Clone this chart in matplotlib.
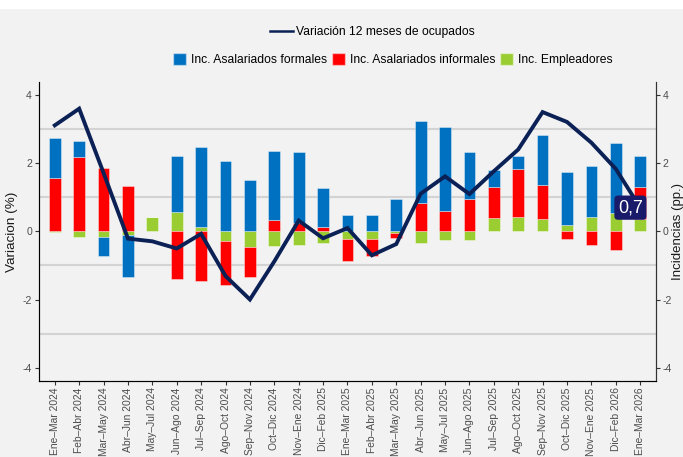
import numpy as np
import matplotlib.pyplot as plt
from matplotlib.lines import Line2D
from matplotlib.patches import Patch, Rectangle

plt.rcParams['font.family'] = ['Liberation Sans', 'DejaVu Sans']
plt.rcParams['axes.unicode_minus'] = False

# Datos
periodos = ['Ene–Mar 2024', 'Feb–Abr 2024', 'Mar–May 2024', 'Abr–Jun 2024', 'May–Jul 2024',
            'Jun–Ago 2024', 'Jul–Sep 2024', 'Ago–Oct 2024', 'Sep–Nov 2024', 'Oct–Dic 2024',
            'Nov–Ene 2024', 'Dic–Feb 2025', 'Ene–Mar 2025', 'Feb–Abr 2025', 'Mar–May 2025',
            'Abr–Jun 2025', 'May–Jul 2025', 'Jun–Ago 2025', 'Jul–Sep 2025', 'Ago–Oct 2025',
            'Sep–Nov 2025', 'Oct–Dic 2025', 'Nov–Ene 2025', 'Dic–Feb 2026', 'Ene–Mar 2026']
formales = [1.19, 0.48, -0.54, -1.25, 0.0, 1.65, 2.34, 2.06, 1.52, 2.03, 2.09, 1.16, 0.47,
            0.47, 0.96, 2.42, 2.46, 1.39, 0.50, 0.38, 1.47, 1.57, 1.50, 2.05, 0.91]
informales = [1.56, 2.18, 1.87, 1.35, 0.01, -1.39, -1.46, -1.29, -0.87, 0.34, 0.24, 0.12, -0.65,
              -0.50, -0.14, 0.84, 0.61, 0.95, 0.92, 1.41, 0.99, -0.21, -0.40, -0.54, 0.95]
empleadores = [-0.03, -0.17, -0.17, -0.09, 0.43, 0.57, 0.13, -0.27, -0.47, -0.43, -0.40, -0.33, -0.22,
               -0.23, -0.04, -0.33, -0.25, -0.25, 0.40, 0.43, 0.38, 0.19, 0.43, 0.54, 0.37]
variacion = [3.12, 3.61, 1.72, -0.21, -0.29, -0.50, -0.07, -1.31, -2.0, -0.88, 0.32, -0.2, 0.1,
             -0.70, -0.37, 1.11, 1.62, 1.10, 1.77, 2.41, 3.51, 3.22, 2.61, 1.84, 0.7]

fig = plt.figure(figsize=(6.83, 4.57), dpi=100)
fig.patch.set_facecolor('white')
fig.patches.append(Rectangle((0, 0), 1, 1 - 9 / 457, transform=fig.transFigure,
                             facecolor='#f2f2f2', edgecolor='none', zorder=-10))

ax = fig.add_axes([0.057, 0.166, 0.9035, 0.655])
ax.set_facecolor('#f2f2f2')

x = np.arange(len(periodos))
pos = np.zeros(len(x))
neg = np.zeros(len(x))
series = [(empleadores, '#9acd32', 'Inc. Empleadores'),
          (informales, '#ff0000', 'Inc. Asalariados informales'),
          (formales, '#0070c0', 'Inc. Asalariados formales')]
for vals, col, lab in series:
    v = np.array(vals)
    bottom = np.where(v >= 0, pos, neg)
    ax.bar(x, v, 0.48, bottom=bottom, color=col, edgecolor=(1, 1, 1, 0.45),
           linewidth=0.6, zorder=2)
    pos = pos + np.where(v >= 0, v, 0)
    neg = neg + np.where(v < 0, v, 0)

ax.plot(x, variacion, color='#0b2156', linewidth=2.8, zorder=3, solid_joinstyle='miter')
etiqueta = f'{variacion[-1]:.1f}'.replace('.', ',')
ax.text(x[-1] - 0.4, variacion[-1], etiqueta,
        color='white', fontsize=13, ha='center', va='center', zorder=4,
        bbox=dict(boxstyle='round,pad=0.2', facecolor='#1a1a6b', edgecolor='none'))

ax.set_xlim(-0.65, 24.65)
ax.set_ylim(-4.4, 4.4)
ax.set_yticks([-4, -2, 0, 2, 4])
ax.set_yticks([-3, -1, 1, 3], minor=True)
ax.grid(which='minor', axis='y', color='#d3d3d3', linewidth=1.5, zorder=0)
ax.tick_params(axis='y', which='minor', length=0)
ax.set_axisbelow(True)
ax.set_xticks(x)
ax.set_xticklabels(periodos, rotation=90, fontsize=7.4, color='#4d4d4d')
ax.tick_params(axis='both', which='major', length=3, color='#333333', labelcolor='#4d4d4d',
               labelsize=7.6)
ax.tick_params(axis='x', pad=1.5, labelsize=7.4)
ax.tick_params(axis='y', pad=2)
ax.set_ylabel('Variacion (%)', fontsize=9.7, color='#1a1a1a', labelpad=3)
ax.spines['top'].set_visible(False)
for s in ['left', 'bottom', 'right']:
    ax.spines[s].set_color('#333333')

ax2 = ax.twinx()
ax2.set_ylim(-4.4, 4.4)
ax2.set_yticks([-4, -2, 0, 2, 4])
ax2.tick_params(axis='y', length=3, color='#333333', labelcolor='#4d4d4d', labelsize=7.6, pad=1.5)
ax2.set_ylabel('Incidencias (pp.)', fontsize=9.5, color='#1a1a1a', labelpad=0.5)
ax2.spines['top'].set_visible(False)
ax2.spines['right'].set_color('#333333')

# Leyendas
h_line = [Line2D([0], [0], color='#0b2156', linewidth=1.8)]
fig.legend(h_line, ['Variación 12 meses de ocupados'], loc='center',
           bbox_to_anchor=(0.545, 0.93), frameon=False, fontsize=8.7,
           handlelength=1.9, handletextpad=0.2)
h_bars = [Patch(facecolor=c, edgecolor=(1, 1, 1, 0.45)) for c in ['#0070c0', '#ff0000', '#9acd32']]
fig.legend(h_bars, ['Inc. Asalariados formales', 'Inc. Asalariados informales', 'Inc. Empleadores'],
           loc='center', ncol=3, bbox_to_anchor=(0.575, 0.869), frameon=False, fontsize=8.7,
           handlelength=1.1, handleheight=1.1, handletextpad=0.4, columnspacing=0.4)

fig.savefig('out.png', dpi=100)
